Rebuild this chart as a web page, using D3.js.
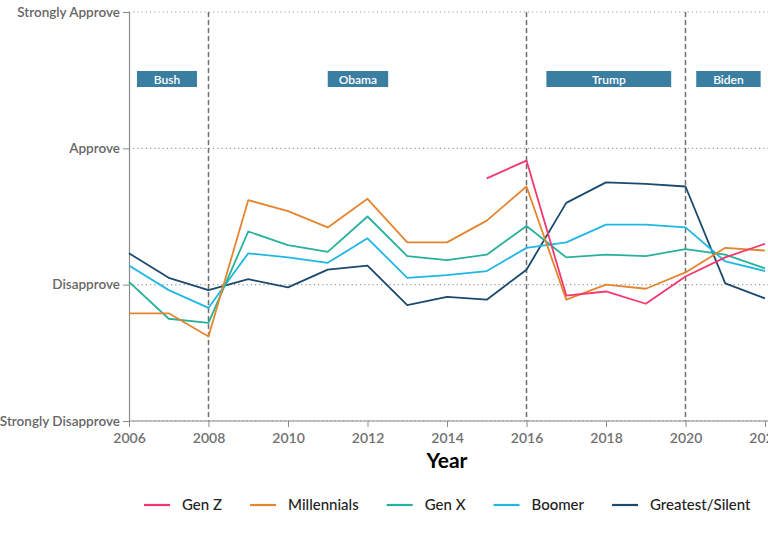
<!DOCTYPE html>
<html><head><meta charset="utf-8">
<script src="https://cdn.jsdelivr.net/npm/d3@7"></script>
<style>
body{margin:0;background:#fff;font-family:Lato,"Open Sans",sans-serif;}
svg{display:block}
</style></head>
<body>
<svg id="chart" width="768" height="538"></svg>
<script>
const years = [2006,2007,2008,2009,2010,2011,2012,2013,2014,2015,2016,2017,2018,2019,2020,2021,2022];
const genZYears = [2015,2016,2017,2018,2019,2020,2021,2022];
const genZ = [2.78,2.91,1.92,1.95,1.86,2.06,2.20,2.30];
const millennials = [1.79,1.79,1.62,2.62,2.54,2.42,2.63,2.31,2.31,2.47,2.72,1.89,2.00,1.97,2.09,2.27,2.25];
const genX = [2.02,1.75,1.72,2.39,2.29,2.24,2.50,2.21,2.18,2.22,2.43,2.20,2.22,2.21,2.26,2.22,2.12];
const boomer = [2.14,1.96,1.83,2.23,2.20,2.16,2.34,2.05,2.07,2.10,2.27,2.31,2.44,2.44,2.42,2.17,2.10];
const greatestSilent = [2.23,2.05,1.96,2.04,1.98,2.11,2.14,1.85,1.91,1.89,2.11,2.60,2.75,2.74,2.72,2.01,1.90];
const yTickValues = [1,2,3,4];
const yTickLabels = ["Strongly Disapprove","Disapprove","Approve","Strongly Approve"];
const xTickValues = [2006,2008,2010,2012,2014,2016,2018,2020,2022];
const transitionYears = [2008,2016,2020];
const presidents = ["Bush","Obama","Trump","Biden"];
const presStart = [2006.2,2011.0,2016.5,2020.27];
const presEnd = [2007.71,2012.52,2019.64,2021.89];

const series = [
  {name:"Gen Z", x:genZYears, y:genZ, color:"#f2386f"},
  {name:"Millennials", x:years, y:millennials, color:"#e5852f"},
  {name:"Gen X", x:years, y:genX, color:"#27b19c"},
  {name:"Boomer", x:years, y:boomer, color:"#1fb7e3"},
  {name:"Greatest/Silent", x:years, y:greatestSilent, color:"#1b4a6e"}
];

const svg = d3.select("#chart");
const x = d3.scaleLinear().domain([2006,2022]).range([129,765]);
const y = d3.scaleLinear().domain([1,4]).range([421,12]);

// horizontal dotted gridlines
svg.append("g").selectAll("line").data(yTickValues).join("line")
  .attr("x1",129).attr("x2",768)
  .attr("y1",d=>y(d)).attr("y2",d=>y(d))
  .attr("stroke","#9a9a9a").attr("stroke-width",1.2).attr("stroke-dasharray","1.2,3");

// vertical dashed lines
svg.append("g").selectAll("line").data(transitionYears).join("line")
  .attr("x1",d=>x(d)).attr("x2",d=>x(d))
  .attr("y1",y(4)).attr("y2",y(1))
  .attr("stroke","#6e6e6e").attr("stroke-width",1.5).attr("stroke-dasharray","5,3");

// y axis
const yAxis = d3.axisLeft(y).tickValues(yTickValues).tickSize(6).tickPadding(3)
  .tickFormat((d,i)=>yTickLabels[i]);
const gy = svg.append("g").attr("transform","translate(129,0)").call(yAxis);
gy.select(".domain").attr("stroke","#8a8a8a").attr("stroke-width",1.2);
gy.selectAll(".tick line").attr("stroke","#8a8a8a");
gy.selectAll(".tick text").attr("fill","#666").style("font-family","Lato").style("font-size","13.5px").style("font-weight","600");

// x axis
const xAxis = d3.axisBottom(x).tickValues(xTickValues).tickSize(6).tickPadding(6).tickFormat(d3.format("d"));
const gx = svg.append("g").attr("transform","translate(0,421)").call(xAxis);
gx.select(".domain").attr("stroke","#8a8a8a").attr("stroke-width",1.2).attr("d","M129,0H768");
gx.selectAll(".tick line").attr("stroke","#8a8a8a");
gx.selectAll(".tick text").attr("fill","#707070").style("font-family","Lato").style("font-size","14px").style("font-weight","600");

svg.append("text").attr("x",447).attr("y",468).attr("text-anchor","middle")
  .style("font-family","Lato").style("font-size","21px").style("font-weight","700").attr("fill","#000").text("Year");

// president boxes
const pg = svg.append("g").selectAll("g").data(presidents).join("g");
pg.append("rect").attr("x",(d,i)=>x(presStart[i])).attr("width",(d,i)=>x(presEnd[i])-x(presStart[i]))
  .attr("y",71).attr("height",16).attr("fill","#3a7ea1");
pg.append("text").attr("x",(d,i)=>(x(presStart[i])+x(presEnd[i]))/2).attr("y",83.5)
  .attr("text-anchor","middle").attr("fill","#fff")
  .style("font-family","Lato").style("font-size","12px").style("font-weight","600").text(d=>d);

// lines
const line = d3.line().x(d=>x(d[0])).y(d=>y(d[1]));
svg.append("g").selectAll("path").data(series.slice().reverse()).join("path")
  .attr("d",s=>line(s.x.map((v,i)=>[v,s.y[i]])))
  .attr("fill","none").attr("stroke",s=>s.color).attr("stroke-width",1.8)
  .attr("stroke-linejoin","round");

// legend
const lg = svg.append("g");
let lx = 144;
series.forEach(s=>{
  lg.append("line").attr("x1",lx).attr("x2",lx+26).attr("y1",505).attr("y2",505)
    .attr("stroke",s.color).attr("stroke-width",2.2);
  const t = lg.append("text").attr("x",lx+38).attr("y",510).attr("fill","#222")
    .style("font-family","Lato").style("font-size","15px").style("font-weight","500").text(s.name);
  lx = lx + 38 + t.node().getComputedTextLength() + 28;
});
</script>
</body></html>
